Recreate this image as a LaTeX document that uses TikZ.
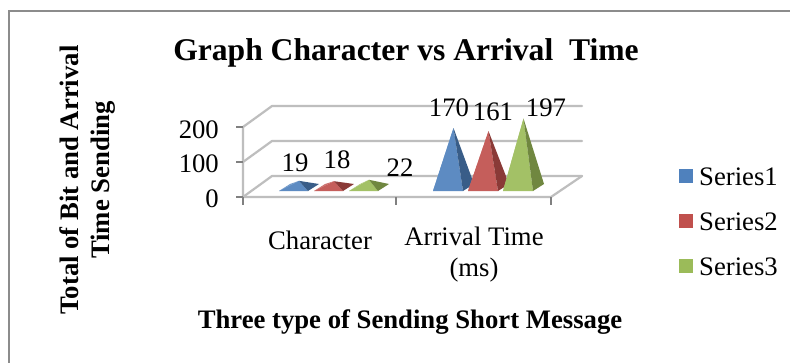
\documentclass[tikz,border=0pt]{standalone}
\usepackage{fontspec}
\setmainfont{Liberation Serif}
\definecolor{serA}{HTML}{4F81BD}
\definecolor{serB}{HTML}{C0504D}
\definecolor{serC}{HTML}{9BBB59}
\definecolor{gridgray}{HTML}{BEBEBE}
\definecolor{framegray}{HTML}{8C8C8C}

% one pyramid: #1 front-left x, #2 base y, #3 base width, #4 height, #5 colour
\newcommand\chartpyr[5]{%
  \coordinate (FL) at (#1,#2);
  \coordinate (FR) at (#1+#3,#2);
  \coordinate (BL) at (#1+11,#2-7);
  \coordinate (BR) at (#1+#3+11,#2-7);
  \coordinate (AP) at (#1+#3/2+5.5,#2-3.5-#4);
  \fill[#5!80!white] (FL) -- (BL) -- (AP) -- cycle;
  \fill[#5!92!white] (FL) -- (FR) -- (AP) -- cycle;
  \fill[#5!72!black] (FR) -- (BR) -- (AP) -- cycle;
}

\begin{document}
\begin{tikzpicture}[x=1pt,y=-1pt,
  grid/.style={draw=gridgray,line width=2.2pt,line join=round,line cap=round},
  tickmark/.style={draw=gray,line width=1.2pt},
  lbl/.style={inner sep=0pt,font=\fontsize{26.7}{31}\selectfont},
  axtitle/.style={inner sep=0pt,font=\fontsize{26.7}{31}\selectfont\bfseries,align=center},
  legbox/.style={inner sep=0pt,minimum size=14pt}]
\useasboundingbox (0,0) rectangle (790,362);
\fill[white] (0,0) rectangle (790,362);

% outer chart frame (left and top edges)
\draw[framegray,line width=2.2pt] (9,364) -- (9,11) -- (792,11);

% back wall, side wall and floor
\foreach \yy in {127,162,197}{
  \draw[grid] (243,\yy) -- (272,\yy-21) -- (582,\yy-21);
}
\draw[grid] (243,127) -- (243,197) -- (551,197) -- (582,176);

% tick marks
\foreach \yy in {127,162,197}{ \draw[tickmark] (236,\yy) -- (243,\yy); }
\foreach \xx in {243,396,551}{ \draw[tickmark] (\xx,197) -- (\xx,205); }

% value axis labels
\node[lbl,anchor=east] (v200) at (219,130) {200};
\node[lbl,anchor=east] (v100) at (219,164) {100};
\node[lbl,anchor=east] (v0)   at (219,199) {0};

% pyramids, scale 0.35 px per unit
\chartpyr{279}{191}{29}{6.65}{serA}
\chartpyr{314}{191}{29}{6.3}{serB}
\chartpyr{349}{191}{29}{7.7}{serC}
\chartpyr{433}{191}{30}{59.5}{serA}
\chartpyr{468}{191}{30}{56.35}{serB}
\chartpyr{503}{191}{30}{68.95}{serC}

% data labels
\node[lbl] (d19)  at (295,163) {19};
\node[lbl] (d18)  at (337,160) {18};
\node[lbl] (d22)  at (400,168) {22};
\node[lbl] (d170) at (449,108) {170};
\node[lbl] (d161) at (493,112) {161};
\node[lbl] (d197) at (546,108) {197};

% category labels
\node[lbl] (cat1) at (320,240) {Character};
\node[lbl,align=center] (cat2) at (474,255) {Arrival Time\\(ms)};

% titles
\node[inner sep=0pt,font=\fontsize{31.6}{36}\selectfont\bfseries,anchor=base] (title) at (406,60) {Graph Character vs Arrival\ \ Time};
\node[axtitle,anchor=base] (xtitle) at (410,328) {Three type of Sending Short Message};
\node[axtitle,rotate=90] (ytitle) at (88,180) {Total of Bit and Arrival\\Time Sending};

% legend
\node[legbox,fill=serA] (k1) at (686,176) {};
\node[legbox,fill=serB] (k2) at (686,221) {};
\node[legbox,fill=serC] (k3) at (686,266) {};
\node[lbl,anchor=west] (s1) at (699,177) {Series1};
\node[lbl,anchor=west] (s2) at (699,222) {Series2};
\node[lbl,anchor=west] (s3) at (699,267) {Series3};
\end{tikzpicture}
\end{document}
